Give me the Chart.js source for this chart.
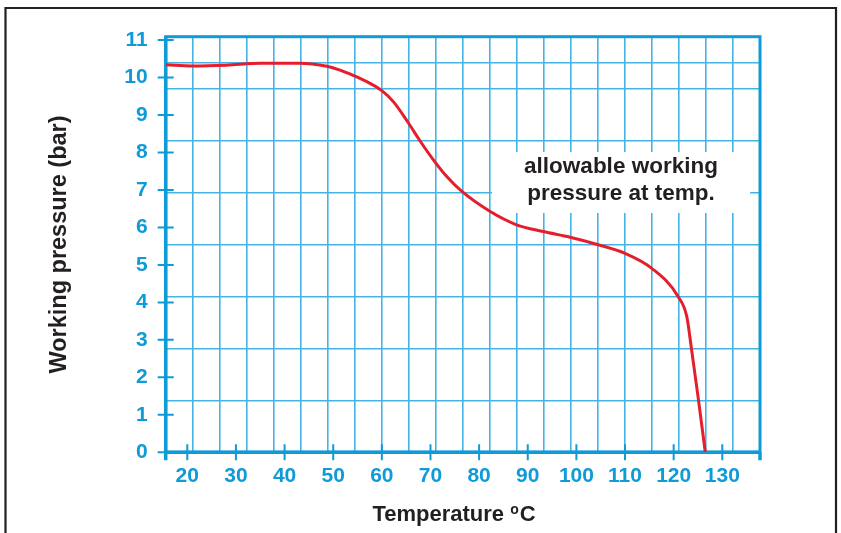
<!DOCTYPE html>
<html><head><meta charset="utf-8">
<script src="https://cdn.jsdelivr.net/npm/chart.js@4"></script>
<style>html,body{margin:0;padding:0;background:#fff;overflow:hidden}</style>
</head><body>
<canvas id="c" width="841" height="533"></canvas>
<script>
// ---- data ----
const temperatures = [15.6, 21, 28, 35, 43, 48.7, 51.4, 54.1, 56.9, 60, 62.4, 65.4, 67.9, 70.9, 73.4, 76.1, 82.2, 87.7, 93.2, 98.7, 104.5, 110, 115.5, 120.9, 122.7, 123.6, 125.1, 126.5];
const pressures    = [10.34, 10.31, 10.33, 10.38, 10.38, 10.3, 10.2, 10.06, 9.89, 9.65, 9.35, 8.8, 8.3, 7.75, 7.35, 7.0, 6.43, 6.07, 5.89, 5.74, 5.54, 5.31, 4.91, 4.16, 3.62, 2.82, 1.40, 0];
const xTickValues = [20, 30, 40, 50, 60, 70, 80, 90, 100, 110, 120, 130];
const yTickValues = [0, 1, 2, 3, 4, 5, 6, 7, 8, 9, 10, 11];
const gridColumns = [0,1,2,3,4,5,6,7,8,9,10,11,12,13,14,15,16,17,18,19,20,21,22];
const gridRows = [0, 1, 2, 3, 4, 5, 6, 7, 7.5, 8];
const xTitleMain = 'Temperature ';
const xTitleSup = 'o';
const xTitleUnit = 'C';
const yTitle = 'Working pressure (bar)';
const noteLines = ['allowable working', 'pressure at temp.'];

const BLUE = '#0f9ad8';
const GRID = '#45b3e4';
const FONT = "'Liberation Sans', Arial, sans-serif";

const points = temperatures.map((t, i) => ({x: t, y: pressures[i]}));
const setTicks = arr => axis => { axis.ticks = arr.map(v => ({value: v})); };

const decor = {
  id: 'decor',
  beforeDraw(chart) {
    const ctx = chart.ctx;
    ctx.save();
    ctx.fillStyle = '#fff';
    ctx.fillRect(0, 0, chart.width, chart.height);
    ctx.strokeStyle = '#231f20';
    ctx.lineWidth = 2.2;
    ctx.beginPath();
    ctx.moveTo(5.5, 533); ctx.lineTo(5.5, 8); ctx.lineTo(836, 8); ctx.lineTo(836, 533);
    ctx.stroke();
    ctx.restore();
  },
  beforeDatasetsDraw(chart) {
    const ctx = chart.ctx;
    const a = chart.chartArea;
    const xs = chart.scales.x, ys = chart.scales.y;
    ctx.save();
    ctx.fillStyle = '#fff';
    ctx.fillRect(492, 152, 258, 61);
    ctx.fillStyle = '#231f20';
    ctx.font = "bold 22.5px " + FONT;
    ctx.textAlign = 'center';
    ctx.textBaseline = 'alphabetic';
    ctx.fillText(noteLines[0], 621, 172.5);
    ctx.fillText(noteLines[1], 621, 199.5);
    ctx.strokeStyle = BLUE;
    ctx.lineWidth = 3;
    ctx.strokeRect(a.left, a.top, a.right - a.left, a.bottom - a.top);
    ctx.lineWidth = 3.5;
    ctx.beginPath();
    ctx.moveTo(a.left, a.top); ctx.lineTo(a.left, a.bottom + 8);
    ctx.moveTo(a.left, a.bottom); ctx.lineTo(a.right, a.bottom);
    ctx.moveTo(a.right, a.bottom); ctx.lineTo(a.right, a.bottom + 8);
    ctx.stroke();
    ctx.lineWidth = 2;
    ctx.beginPath();
    yTickValues.forEach(v => { const p = ys.getPixelForValue(v); ctx.moveTo(a.left - 8, p); ctx.lineTo(a.left + 8, p); });
    xTickValues.forEach(v => { const p = xs.getPixelForValue(v); ctx.moveTo(p, a.bottom - 8); ctx.lineTo(p, a.bottom + 8); });
    ctx.stroke();
    ctx.restore();
  },
  afterDraw(chart) {
    const ctx = chart.ctx;
    ctx.save();
    ctx.fillStyle = '#231f20';
    ctx.textBaseline = 'alphabetic';
    ctx.textAlign = 'left';
    const big = "bold 22px " + FONT, small = "bold 14px " + FONT;
    ctx.font = big;
    const w1 = ctx.measureText(xTitleMain).width, w3 = ctx.measureText(xTitleUnit).width;
    ctx.font = small;
    const w2 = ctx.measureText(xTitleSup).width + 1;
    const total = w1 + w2 + w3;
    let x = 454 - total / 2;
    const base = 521;
    ctx.font = big; ctx.fillText(xTitleMain, x, base); x += w1;
    ctx.font = small; ctx.fillText(xTitleSup, x, base - 7.5); x += w2;
    ctx.font = big; ctx.fillText(xTitleUnit, x, base);
    ctx.restore();
  }
};

new Chart(document.getElementById('c'), {
  type: 'line',
  data: {
    datasets: [{
      data: points,
      borderColor: '#e41e2b',
      borderWidth: 3,
      pointRadius: 0,
      fill: false,
      cubicInterpolationMode: 'monotone'
    }]
  },
  options: {
    responsive: false,
    animation: false,
    devicePixelRatio: 1,
    layout: {padding: {top: 36.7, right: 81, bottom: 0, left: 0}},
    plugins: {legend: {display: false}, tooltip: {enabled: false}},
    scales: {
      x: {
        type: 'linear', position: 'bottom', min: 15.56, max: 137.75,
        afterBuildTicks: setTicks(xTickValues),
        afterFit: s => { s.height = 80.7; },
        grid: {display: false, drawTicks: false},
        border: {display: false},
        ticks: {color: BLUE, padding: 11.3, maxRotation: 0, autoSkip: false,
                font: {family: FONT, size: 21, weight: 'bold'}}
      },
      y: {
        type: 'linear', position: 'left', min: 0, max: 11.09,
        afterBuildTicks: setTicks(yTickValues),
        afterFit: s => { s.width = 165.7; },
        grid: {display: false, drawTicks: false},
        border: {display: false},
        ticks: {color: BLUE, padding: 18, autoSkip: false,
                font: {family: FONT, size: 21, weight: 'bold'}},
        title: {display: true, text: yTitle, color: '#231f20',
                font: {family: FONT, size: 23.5, weight: 'bold'},
                padding: {top: 45, bottom: 0}}
      },
      x2: {
        type: 'linear', position: 'top', min: 0, max: 22,
        afterBuildTicks: setTicks(gridColumns),
        afterFit: s => { s.height = 0; },
        grid: {color: GRID, lineWidth: 1.6, drawTicks: false},
        border: {display: false},
        ticks: {display: false}
      },
      y2: {
        type: 'linear', position: 'right', min: 0, max: 8,
        afterBuildTicks: setTicks(gridRows),
        afterFit: s => { s.width = 0; },
        grid: {color: GRID, lineWidth: 1.6, drawTicks: false},
        border: {display: false},
        ticks: {display: false}
      }
    }
  },
  plugins: [decor]
});
</script>
</body></html>
